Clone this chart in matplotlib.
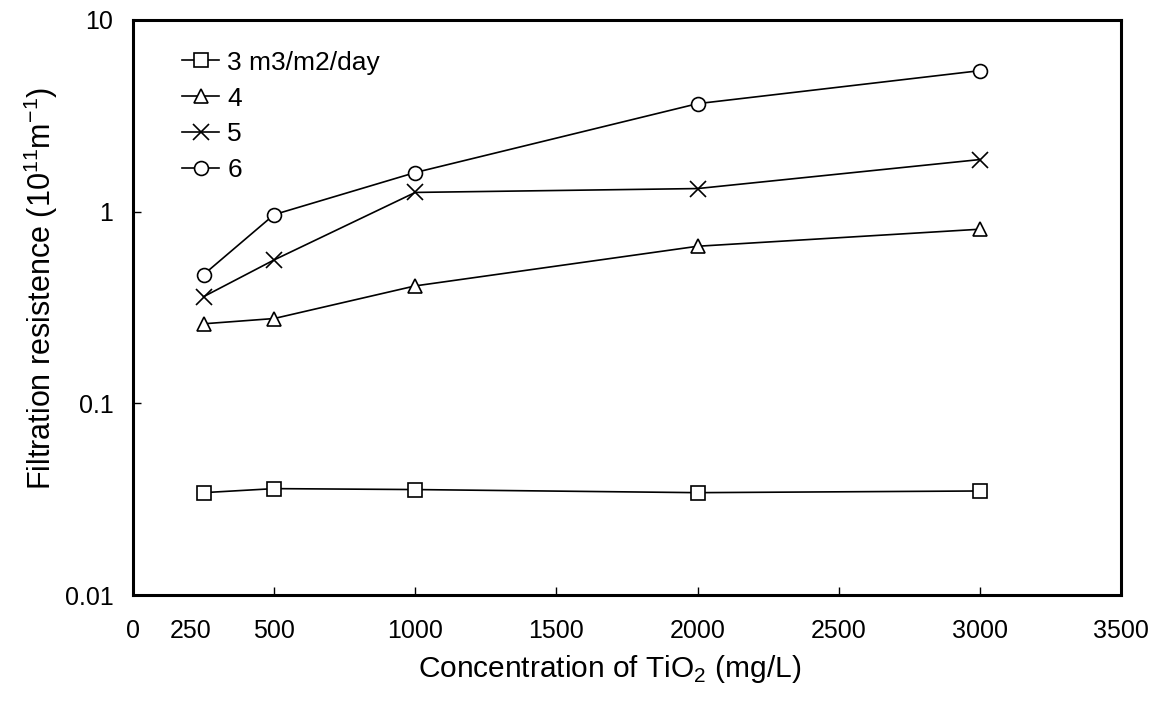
import numpy as np
import matplotlib
matplotlib.use('Agg')
import matplotlib.pyplot as plt
import matplotlib.transforms as mtransforms
from matplotlib.ticker import FixedLocator, NullLocator

plt.rcParams['font.family'] = ['Liberation Sans', 'DejaVu Sans']
plt.rcParams['mathtext.fontset'] = 'custom'
plt.rcParams['mathtext.rm'] = 'Liberation Sans'

# data
conc = [250, 500, 1000, 2000, 3000]
flux3 = [0.0342, 0.0359, 0.0355, 0.0342, 0.0349]
flux4 = [0.26, 0.277, 0.41, 0.66, 0.81]
flux5 = [0.36, 0.56, 1.26, 1.32, 1.87]
flux6 = [0.469, 0.965, 1.60, 3.66, 5.44]
labels = ['3 m3/m2/day', '4', '5', '6']
markers = ['s', '^', 'x', 'o']

fig = plt.figure(figsize=(11.66, 7.04), dpi=100)
ax = fig.add_axes([0.114, 0.1548, 0.8474, 0.8168])

for ys, lab, mk in zip([flux3, flux4, flux5, flux6], labels, markers):
    ax.plot(conc, ys, color='black', lw=1.2, marker=mk, markersize=10 if mk != 'x' else 11,
            markerfacecolor='white', markeredgecolor='black', markeredgewidth=1.2,
            label=lab)

ax.set_yscale('log')
ax.set_ylim(0.01, 10)
ax.set_xlim(0, 3500)

ax.xaxis.set_major_locator(FixedLocator([0, 500, 1000, 1500, 2000, 2500, 3000, 3500]))
ax.xaxis.set_minor_locator(FixedLocator([250]))
ax.set_xticklabels(['0', '500', '1000', '1500', '2000', '2500', '3000', '3500'])
ax.set_xticklabels(['250'], minor=True)
ax.set_yticks([0.01, 0.1, 1, 10])
ax.set_yticklabels(['0.01', '0.1', '1', '10'])
ax.yaxis.set_minor_locator(NullLocator())
ax.tick_params(axis='both', which='major', direction='in', length=6, width=1, labelsize=18)
ax.tick_params(axis='x', which='major', pad=17)
ax.tick_params(axis='y', which='major', pad=14)
ax.tick_params(axis='x', which='minor', length=0, pad=17, labelsize=18)

# Excel nudged the "250" label a bit to the left
shift = mtransforms.ScaledTranslation(-13 / 100, 0, fig.dpi_scale_trans)
for lab in ax.get_xticklabels(minor=True):
    lab.set_transform(lab.get_transform() + shift)

for sp in ax.spines.values():
    sp.set_linewidth(2.2)

ax.set_xlabel('Concentration of TiO$_2$ (mg/L)', fontsize=21.5)
ax.set_ylabel('Filtration resistence (10$^{11}$m$^{-1}$)', fontsize=22)
ax.xaxis.set_label_coords(0.482, -0.1)
ax.yaxis.set_label_coords(-0.074, 0.534)

leg = ax.legend(loc='upper left', bbox_to_anchor=(0.026, 0.988), frameon=False, fontsize=19,
                handlelength=1.4, handletextpad=0.3, labelspacing=0.45)

fig.savefig('out.png', dpi=100)
